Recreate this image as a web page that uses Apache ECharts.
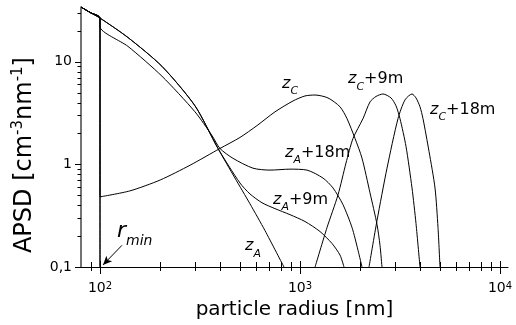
<!DOCTYPE html>
<html>
<head>
<meta charset="utf-8">
<script src="https://cdn.jsdelivr.net/npm/echarts@6/dist/echarts.min.js"></script>
<style>
html,body{margin:0;padding:0;background:#fff;}
#chart{width:516px;height:325px;}
</style>
</head>
<body>
<div id="chart"></div>
<script>
// ---- axis ranges & tick values ----
const xMin = 80.35, xMax = 10965;
const yMin = 0.1, yMax = 34.1;
const xMajorTicks = [100, 1000, 10000];
const xMinorTicks = [90, 200, 300, 400, 500, 600, 700, 800, 900, 2000, 3000, 4000, 5000, 6000, 7000, 8000, 9000];
const yMajorTicks = [0.1, 1, 10];
const yMinorTicks = [0.2, 0.3, 0.4, 0.5, 0.6, 0.7, 0.8, 0.9, 2, 3, 4, 5, 6, 7, 8, 9, 20, 30];

// ---- curves: [particle radius nm, APSD cm^-3 nm^-1] ----
const zA = [[80.35, 34.1], [89.1, 30.2], [100, 26.6], [138, 17.2], [204, 9.02], [298.5, 3.72], [389, 1.43],
  [473, 0.736], [562, 0.414], [668, 0.227], [832, 0.1]];
const zA9 = [[80.35, 34.1], [89.1, 30.2], [100, 26.6], [138, 17.2], [204, 9.02], [298.5, 3.72], [389, 1.43],
  [501, 0.659], [562, 0.516], [646, 0.423], [750, 0.371], [891, 0.324], [1059, 0.278], [1259, 0.222],
  [1445, 0.170], [1585, 0.131], [1660, 0.1]];
const zA18 = [[80.35, 34.1], [89.1, 30.2], [100, 26.6], [100, 21.9], [138, 14.1], [204, 7.23], [298.5, 3.25],
  [363, 1.91], [398, 1.43], [462, 1.147], [582, 0.919], [708, 0.880], [891, 0.899], [1084, 0.880],
  [1303, 0.736], [1462, 0.590], [1641, 0.405], [1820, 0.243], [1950, 0.146], [2042, 0.1]];
const zC = [[80.35, 34.1], [89.1, 30.2], [100, 26.6], [100, 0.483], [141, 0.552], [200, 0.705], [282, 0.982],
  [398, 1.43], [501, 1.83], [610, 2.39], [750, 3.25], [923, 4.15], [1059, 4.64], [1189, 4.74], [1380, 4.44],
  [1585, 3.64], [1718, 2.79], [1884, 1.79], [2042, 1.15], [2239, 0.528], [2427, 0.260], [2512, 0.163], [2570, 0.1]];
const zC9 = [[80.35, 34.1], [89.1, 30.2], [100, 26.6], [100, 0.1], '-',
  [1189, 0.1], [1365, 0.243], [1549, 0.505], [1698, 1.03], [1841, 1.79], [2065, 2.79], [2239, 4.06],
  [2399, 4.59], [2600, 4.85], [2851, 4.44], [3020, 3.72], [3162, 2.79], [3388, 1.50], [3631, 0.59],
  [3802, 0.266], [3981, 0.1]];
const zC18 = [[80.35, 34.1], [89.1, 30.2], [100, 26.6], [100, 0.1], '-',
  [2213, 0.1], [2427, 0.284], [2723, 0.919], [3090, 2.79], [3350, 4.25], [3631, 4.85], [3802, 4.44],
  [3981, 3.64], [4121, 2.79], [4416, 1.34], [4732, 0.59], [4898, 0.243], [5012, 0.1]];
const curves = [zA, zA9, zA18, zC, zC9, zC18];
// r_min arrow (from, to) in data space
const rminArrow = [[128.8, 0.163], [103.5, 0.105]];

const F = 'DejaVu Sans';
const isPow10 = v => Math.abs(Math.log10(v) - Math.round(Math.log10(v))) < 1e-6;

const chart = echarts.init(document.getElementById('chart'), null, {renderer: 'canvas'});

const lineSeries = curves.map((d, i) => {
  const s = {
    type: 'line', data: d, showSymbol: false, symbol: 'none',
    smooth: 0.25, connectNulls: false,
    lineStyle: {color: '#000', width: 1}, silent: true, z: 3
  };
  if (i === 0) {
    s.markLine = {
      silent: true, symbol: ['none', 'arrow'], symbolSize: [6, 9],
      lineStyle: {color: '#000', width: 1, type: 'solid'}, label: {show: false},
      data: [[{coord: rminArrow[0]}, {coord: rminArrow[1]}]]
    };
  }
  return s;
});

const xTickSeries = {
  type: 'custom', clip: false, silent: true, z: 5,
  data: xMajorTicks.map(v => [v, yMin, 1]).concat(xMinorTicks.map(v => [v, yMin, 0])),
  renderItem: function (params, api) {
    const p = api.coord([api.value(0), api.value(1)]);
    const major = api.value(2) === 1;
    const x = Math.round(p[0]) + 0.5, y = Math.round(p[1]);
    return {type: 'line', shape: {x1: x, y1: y - (major ? 6 : 5), x2: x, y2: y + (major ? 7 : 4)},
      style: {stroke: '#000', lineWidth: 1}};
  }
};
const yTickSeries = {
  type: 'custom', clip: false, silent: true, z: 5,
  data: yMajorTicks.map(v => [xMin, v, 1]).concat(yMinorTicks.map(v => [xMin, v, 0])),
  renderItem: function (params, api) {
    const p = api.coord([api.value(0), api.value(1)]);
    const major = api.value(2) === 1;
    const x = Math.round(p[0]), y = Math.round(p[1]) + 0.5;
    return {type: 'line', shape: {x1: x - (major ? 6 : 3.5), y1: y, x2: x, y2: y},
      style: {stroke: '#000', lineWidth: 1}};
  }
};

const subRich = {
  z: {fontFamily: F, fontSize: 16, fontStyle: 'italic', lineHeight: 16, verticalAlign: 'top', fill: '#000', color: '#000'},
  s: {fontFamily: F, fontSize: 11, fontStyle: 'italic', lineHeight: 32, verticalAlign: 'middle', fill: '#000', color: '#000'},
  t: {fontFamily: F, fontSize: 16, lineHeight: 16, verticalAlign: 'top', fill: '#000', color: '#000'}
};
function lbl(x, y, text) {
  return {type: 'text', x: x, y: y, silent: true, z: 10,
    style: {text: text, rich: subRich, fill: '#000', align: 'left', verticalAlign: 'top', font: '16px ' + F}};
}

chart.setOption({
  animation: false,
  backgroundColor: '#fff',
  grid: {left: 81, right: 8, top: 7, bottom: 55, containLabel: false},
  xAxis: {
    type: 'log', logBase: 10, min: xMin, max: xMax,
    name: 'particle radius [nm]', nameLocation: 'middle', nameGap: 29,
    nameTextStyle: {fontFamily: F, fontSize: 20, color: '#000'},
    axisLine: {lineStyle: {color: '#000', width: 1}},
    axisTick: {show: false}, splitLine: {show: false}, minorTick: {show: false},
    axisLabel: {
      margin: 14, color: '#000',
      formatter: v => isPow10(v) ? '{b|10}{s|' + Math.round(Math.log10(v)) + '}' : '',
      rich: {
        b: {fontFamily: F, fontSize: 14, lineHeight: 14, verticalAlign: 'bottom', color: '#000'},
        s: {fontFamily: F, fontSize: 10, lineHeight: 4, verticalAlign: 'top', color: '#000'}
      }
    }
  },
  yAxis: {
    type: 'log', logBase: 10, min: yMin, max: yMax,
    name: '{b|APSD [cm}{s|-3}{b|nm}{s|-1}{b|]}', nameLocation: 'middle', nameGap: 42, nameRotate: 90,
    nameTextStyle: {
      color: '#000', padding: [0, 36, 0, 0],
      rich: {
        b: {fontFamily: F, fontSize: 24, lineHeight: 28, verticalAlign: 'middle', color: '#000'},
        s: {fontFamily: F, fontSize: 15, lineHeight: 15, verticalAlign: 'top', color: '#000'}
      }
    },
    axisLine: {lineStyle: {color: '#444', width: 1.5}},
    axisTick: {show: false}, splitLine: {show: false}, minorTick: {show: false},
    axisLabel: {
      margin: 9, color: '#000', fontFamily: F, fontSize: 14,
      formatter: v => isPow10(v) ? String(+v.toPrecision(6)).replace('.', ',') : ''
    }
  },
  series: lineSeries.concat([xTickSeries, yTickSeries]),
  graphic: [
    lbl(282, 75.5, '{z|z}{s|C}'),
    lbl(348, 71, '{z|z}{s|C}{t|+9m}'),
    lbl(430, 101.5, '{z|z}{s|C}{t|+18m}'),
    lbl(285, 144.5, '{z|z}{s|A}{t|+18m}'),
    lbl(273, 191.5, '{z|z}{s|A}{t|+9m}'),
    lbl(245, 238, '{z|z}{s|A}'),
    {type: 'text', x: 117, y: 220.5, silent: true, z: 10,
      style: {text: '{r|r}{m|min}', align: 'left', verticalAlign: 'top', fill: '#000',
        rich: {
          r: {fontFamily: F, fontSize: 22, fontStyle: 'italic', lineHeight: 22, verticalAlign: 'top', fill: '#000', color: '#000'},
          m: {fontFamily: F, fontSize: 14, fontStyle: 'italic', lineHeight: 41, verticalAlign: 'middle', fill: '#000', color: '#000'}
        }}}
  ]
});
</script>
</body>
</html>
